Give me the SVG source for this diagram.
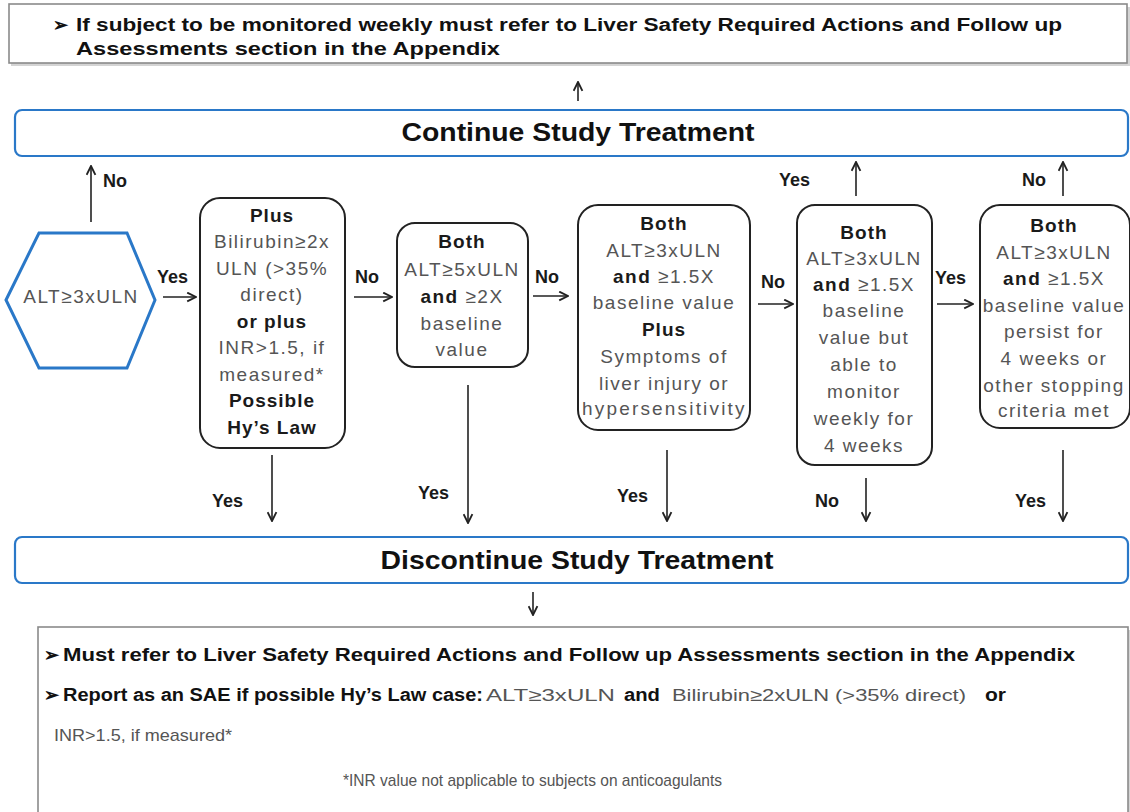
<svg xmlns="http://www.w3.org/2000/svg" width="1130" height="812" viewBox="0 0 1130 812">
<style>
.frame{fill:#fff;stroke:#8a8a8a;stroke-width:1.6}
.shadow{fill:#d4d4d4}
.blue{fill:#fff;stroke:#2a78c8;stroke-width:2.2}
.node{fill:#fff;stroke:#222;stroke-width:2}
.t{font-family:"Liberation Sans",Arial,sans-serif;font-size:19px;fill:#555;letter-spacing:1.5px;text-anchor:middle}
.b{font-family:"Liberation Sans",Arial,sans-serif;font-size:19px;fill:#1a1a1a;font-weight:bold;letter-spacing:1px;text-anchor:middle}
.bw{font-weight:bold;fill:#1a1a1a}
.lbl{font-family:"Liberation Sans",Arial,sans-serif;font-size:18px;font-weight:bold;fill:#1a1a1a}
.hd{font-family:"Liberation Sans",Arial,sans-serif;font-size:25px;font-weight:bold;fill:#111;text-anchor:middle}
.note{font-family:"Liberation Sans",Arial,sans-serif;font-size:18px;font-weight:bold;fill:#111}
.reg{font-family:"Liberation Sans",Arial,sans-serif;font-size:17px;fill:#555}
.conn path{fill:none;stroke:#222;stroke-width:1.6;marker-end:url(#ah)}
</style>
<defs>
<marker id="ah" viewBox="0 0 10 10" refX="9" refY="5" markerWidth="11" markerHeight="11" markerUnits="userSpaceOnUse" orient="auto">
<path d="M1,1 L9,5 L1,9" fill="none" stroke="#222" stroke-width="1.7"/>
</marker>
</defs>
<rect width="1130" height="812" fill="#fff"/>

<g id="top-note">
<rect class="shadow" x="11" y="7" width="1119" height="59"/>
<rect class="frame" x="9" y="4" width="1118" height="59"/>
<text class="note" x="53" y="31">➢</text>
<text class="note" x="76" y="31" textLength="986" lengthAdjust="spacingAndGlyphs">If subject to be monitored weekly must refer to Liver Safety Required Actions and Follow up</text>
<text class="note" x="76" y="55" textLength="424" lengthAdjust="spacingAndGlyphs">Assessments section in the Appendix</text>
</g>

<g id="continue">
<rect class="blue" x="15" y="110" width="1113" height="46" rx="7"/>
<text class="hd" x="578" y="141" textLength="353" lengthAdjust="spacingAndGlyphs">Continue Study Treatment</text>
</g>

<g id="hex">
<polygon points="6,300 39,233 127,233 155,300 127,368 39,368" fill="#fff" stroke="#2a78c8" stroke-width="3"/>
<text class="t" x="81" y="303" letter-spacing="1">ALT≥3xULN</text>
</g>

<g id="box1">
<rect class="node" x="200" y="198" width="145" height="250" rx="20"/>
<text class="b" x="272" y="222">Plus</text>
<text class="t" x="272" y="248">Bilirubin≥2x</text>
<text class="t" x="272" y="275">ULN (&gt;35%</text>
<text class="t" x="272" y="301">direct)</text>
<text class="b" x="272" y="328">or plus</text>
<text class="t" x="272" y="354">INR&gt;1.5, if</text>
<text class="t" x="272" y="381">measured*</text>
<text class="b" x="272" y="407">Possible</text>
<text class="b" x="272" y="434">Hy’s Law</text>
</g>

<g id="box2">
<rect class="node" x="397" y="223" width="131" height="144" rx="18"/>
<text class="b" x="462" y="248">Both</text>
<text class="t" x="462" y="276" letter-spacing="0.8">ALT≥5xULN</text>
<text class="t" x="462" y="303"><tspan class="bw">and</tspan> ≥2X</text>
<text class="t" x="462" y="330">baseline</text>
<text class="t" x="462" y="356">value</text>
</g>

<g id="box3">
<rect class="node" x="578" y="205" width="172" height="225" rx="20"/>
<text class="b" x="664" y="230">Both</text>
<text class="t" x="664" y="257">ALT≥3xULN</text>
<text class="t" x="664" y="283"><tspan class="bw">and</tspan> ≥1.5X</text>
<text class="t" x="664" y="309">baseline value</text>
<text class="b" x="664" y="336">Plus</text>
<text class="t" x="664" y="363">Symptoms of</text>
<text class="t" x="664" y="390">liver injury or</text>
<text class="t" x="664" y="415" textLength="164" lengthAdjust="spacing">hypersensitivity</text>
</g>

<g id="box4">
<rect class="node" x="797" y="205" width="135" height="260" rx="18"/>
<text class="b" x="864" y="239">Both</text>
<text class="t" x="864" y="265">ALT≥3xULN</text>
<text class="t" x="864" y="291"><tspan class="bw">and</tspan> ≥1.5X</text>
<text class="t" x="864" y="317">baseline</text>
<text class="t" x="864" y="344">value but</text>
<text class="t" x="864" y="371">able to</text>
<text class="t" x="864" y="398">monitor</text>
<text class="t" x="864" y="425">weekly for</text>
<text class="t" x="864" y="452">4 weeks</text>
</g>

<g id="box5">
<rect class="node" x="980" y="205" width="150" height="223" rx="20"/>
<text class="b" x="1054" y="232">Both</text>
<text class="t" x="1054" y="259">ALT≥3xULN</text>
<text class="t" x="1054" y="285"><tspan class="bw">and</tspan> ≥1.5X</text>
<text class="t" x="1054" y="312">baseline value</text>
<text class="t" x="1054" y="338">persist for</text>
<text class="t" x="1054" y="365">4 weeks or</text>
<text class="t" x="1054" y="392">other stopping</text>
<text class="t" x="1054" y="417">criteria met</text>
</g>

<g id="discontinue">
<rect class="blue" x="15" y="537" width="1113" height="46" rx="7"/>
<text class="hd" x="577" y="569" textLength="393" lengthAdjust="spacingAndGlyphs">Discontinue Study Treatment</text>
</g>

<g id="bottom-note">
<rect class="shadow" x="40" y="630" width="1090" height="190"/>
<rect class="frame" x="38" y="627" width="1090" height="190"/>
<text class="note" x="44" y="661" font-size="17">➢</text>
<text class="note" x="63" y="661" textLength="1012" lengthAdjust="spacingAndGlyphs">Must refer to Liver Safety Required Actions and Follow up Assessments section in the Appendix</text>
<text class="note" x="44" y="701" font-size="17">➢</text>
<text class="note" x="63" y="701" textLength="420" lengthAdjust="spacingAndGlyphs">Report as an SAE if possible Hy’s Law case:</text>
<text class="reg" x="486" y="701" textLength="129" lengthAdjust="spacingAndGlyphs">ALT≥3xULN</text>
<text class="note" x="624" y="701" textLength="36" lengthAdjust="spacingAndGlyphs">and</text>
<text class="reg" x="672" y="701" textLength="294" lengthAdjust="spacingAndGlyphs">Bilirubin≥2xULN (&gt;35% direct)</text>
<text class="note" x="985" y="701" textLength="21" lengthAdjust="spacingAndGlyphs">or</text>
<text class="reg" x="54" y="741" textLength="178" lengthAdjust="spacingAndGlyphs">INR&gt;1.5, if measured*</text>
<text class="reg" x="343" y="786" font-size="14" textLength="379" lengthAdjust="spacingAndGlyphs">*INR value not applicable to subjects on anticoagulants</text>
</g>

<g id="connectors" class="conn">
<path d="M578,101 L578,82"/>
<path d="M91,222 L91,166"/>
<path d="M163,297 L196,297"/>
<path d="M354,297 L392,297"/>
<path d="M533,296 L568,296"/>
<path d="M758,304 L793,304"/>
<path d="M937,304 L973,304"/>
<path d="M856,196 L856,162"/>
<path d="M1063,196 L1063,162"/>
<path d="M272,455 L272,521"/>
<path d="M468,385 L468,523"/>
<path d="M667,450 L667,521"/>
<path d="M866,478 L866,521"/>
<path d="M1063,450 L1063,521"/>
<path d="M533,592 L533,615"/>
</g>

<g id="labels">
<text class="lbl" x="103" y="187">No</text>
<text class="lbl" x="157" y="283">Yes</text>
<text class="lbl" x="355" y="283">No</text>
<text class="lbl" x="535" y="283">No</text>
<text class="lbl" x="761" y="288">No</text>
<text class="lbl" x="935" y="284">Yes</text>
<text class="lbl" x="779" y="186">Yes</text>
<text class="lbl" x="1022" y="186">No</text>
<text class="lbl" x="212" y="507">Yes</text>
<text class="lbl" x="418" y="499">Yes</text>
<text class="lbl" x="617" y="502">Yes</text>
<text class="lbl" x="815" y="507">No</text>
<text class="lbl" x="1015" y="507">Yes</text>
</g>
</svg>
